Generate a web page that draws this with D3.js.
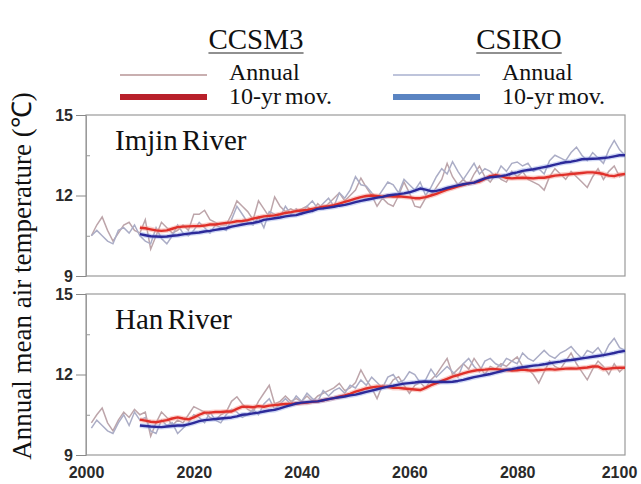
<!DOCTYPE html>
<html><head><meta charset="utf-8">
<script src="https://cdn.jsdelivr.net/npm/d3@7/dist/d3.min.js"></script>
<style>body{margin:0;background:#fff}</style>
</head><body><svg id="c" width="641" height="484"></svg>
<script>
// ---------- data ----------
const firstAnnualYear = 2001;
const firstMovYear = 2010;
const xTicks = [2000, 2020, 2040, 2060, 2080, 2100];
const yTicks = [9, 12, 15];
const yMinorTicks = [10.5, 13.5];
const modelNames = ["CCSM3", "CSIRO"];
const riverNames = ["Imjin River", "Han River"];

const imjinCCSM3Annual = [10.5,10.9,11.2,10.7,10.3,10.6,10.9,11.0,10.7,10.6,
 11.1,10.0,10.5,11.0,10.8,10.6,10.7,10.9,10.7,11.3,
 11.3,11.45,11.1,11.0,10.9,10.9,11.3,11.8,11.6,11.4,
 11.1,11.8,11.5,11.2,11.95,11.6,11.4,11.5,11.4,11.5,
 11.6,11.4,11.7,11.5,11.7,11.9,12.1,11.8,12.0,12.2,
 12.65,12.3,12.0,11.6,11.9,11.7,11.6,12.0,12.5,12.1,
 11.6,11.55,11.9,12.0,12.3,12.6,13.2,12.7,12.4,12.6,
 12.4,12.8,13.1,12.7,12.5,12.8,12.6,12.5,12.9,12.7,
 12.9,12.6,12.5,12.4,12.2,12.7,13.0,12.8,12.6,12.9,
 12.7,12.5,12.3,12.7,13.0,12.6,12.9,13.1,12.7,12.8];
const imjinCSIROAnnual = [10.5,10.7,10.5,10.3,10.2,10.7,10.8,10.6,10.9,10.5,
 10.3,10.2,10.8,10.4,10.2,10.5,10.9,10.6,10.5,10.7,
 11.0,10.8,10.6,10.9,10.8,10.7,11.1,11.6,11.3,11.0,
 10.9,11.2,10.8,11.4,11.3,11.2,11.6,11.3,11.5,11.3,
 11.6,11.8,11.5,11.7,11.9,11.6,12.1,11.9,12.2,12.7,
 12.4,12.35,12.1,11.9,12.2,12.5,12.4,12.1,12.6,12.4,
 12.2,12.5,12.0,12.3,12.7,13.0,12.8,13.26,12.9,12.6,
 12.9,13.2,12.8,13.0,12.9,12.7,13.1,12.9,13.2,13.25,
 13.1,13.2,12.9,13.0,12.8,13.3,13.5,13.4,13.3,13.6,
 13.8,13.5,13.3,13.6,13.4,13.2,13.7,14.05,13.7,13.5];
const imjinCCSM3Mov = [10.80,10.78,10.74,10.70,10.68,10.70,10.76,10.82,10.84,10.85,
 10.86,10.86,10.88,10.92,10.92,10.95,10.98,11.00,11.04,11.05,
 11.08,11.14,11.18,11.22,11.24,11.26,11.30,11.35,11.38,11.42,
 11.44,11.46,11.50,11.54,11.58,11.60,11.64,11.70,11.76,11.82,
 11.88,11.94,11.98,12.00,11.98,11.96,11.98,11.96,11.97,11.95,
 11.93,11.90,11.90,11.94,12.00,12.06,12.14,12.22,12.28,12.34,
 12.40,12.45,12.48,12.52,12.62,12.72,12.76,12.72,12.66,12.64,
 12.65,12.66,12.65,12.64,12.66,12.66,12.70,12.74,12.76,12.78,
 12.80,12.82,12.84,12.86,12.86,12.84,12.80,12.74,12.72,12.78,12.80];
const imjinCSIROMov = [10.56,10.52,10.48,10.47,10.46,10.47,10.50,10.52,10.55,10.58,
 10.60,10.62,10.66,10.68,10.72,10.75,10.78,10.84,10.88,10.92,
 10.95,10.98,11.02,11.09,11.12,11.15,11.18,11.22,11.25,11.27,
 11.33,11.38,11.43,11.50,11.52,11.55,11.58,11.62,11.65,11.70,
 11.75,11.80,11.84,11.88,11.92,11.95,12.00,12.03,12.05,12.08,
 12.12,12.18,12.26,12.22,12.16,12.17,12.22,12.28,12.33,12.38,
 12.42,12.45,12.48,12.56,12.64,12.68,12.70,12.72,12.76,12.82,
 12.86,12.92,12.95,12.98,13.02,13.06,13.10,13.15,13.20,13.24,
 13.26,13.30,13.35,13.36,13.37,13.38,13.40,13.42,13.46,13.50,13.50];

const hanCCSM3Annual = [10.2,10.5,10.75,10.2,9.9,10.3,10.6,10.4,10.7,10.5,
 10.6,9.7,10.2,10.6,10.4,10.1,10.3,10.2,10.5,10.8,
 10.7,10.6,10.4,10.3,10.5,10.6,11.0,11.17,10.9,10.7,
 10.6,11.0,11.3,11.6,10.9,11.0,11.2,11.0,11.1,11.0,
 11.2,11.0,11.2,11.3,11.4,11.5,11.67,11.4,11.5,11.7,
 12.17,11.8,11.5,11.1,11.6,11.5,11.8,11.92,11.6,11.3,
 11.6,11.7,11.5,11.8,12.0,12.3,12.6,12.0,12.2,12.4,
 12.2,12.6,12.3,12.0,12.3,12.2,12.4,12.3,12.5,12.66,
 12.3,12.2,12.0,11.68,12.1,12.5,12.3,12.2,12.5,12.8,
 12.4,12.1,11.8,12.2,12.5,12.3,12.0,12.4,12.1,12.3];
const hanCSIROAnnual = [10.0,10.3,10.1,9.9,9.8,10.2,10.5,10.1,10.6,10.3,
 10.4,9.9,9.8,10.3,10.1,10.2,9.8,10.0,10.2,10.5,
 10.4,10.2,10.6,10.3,10.2,10.5,10.7,10.6,10.4,10.5,
 10.7,10.5,10.9,11.1,10.7,10.9,11.1,10.9,11.2,11.0,
 11.3,11.1,11.0,11.4,11.2,11.4,11.5,11.3,11.6,11.5,
 11.8,11.6,11.9,11.7,11.5,11.9,12.0,11.7,11.8,12.1,
 12.0,11.7,11.8,12.2,11.9,12.1,12.3,12.1,11.9,12.4,
 12.6,12.3,12.1,12.5,12.6,12.4,12.3,12.6,12.5,12.4,
 12.8,12.6,12.5,12.7,12.9,12.7,12.6,12.8,12.9,13.04,
 12.8,12.6,12.9,12.8,13.0,12.7,13.1,13.35,13.0,12.9];
const hanCCSM3Mov = [10.32,10.28,10.24,10.22,10.26,10.30,10.36,10.40,10.36,10.33,
 10.40,10.50,10.58,10.58,10.60,10.60,10.62,10.62,10.72,10.80,
 10.80,10.78,10.82,10.80,10.84,10.86,10.88,10.90,10.90,10.92,
 10.94,10.95,10.98,11.00,11.04,11.08,11.12,11.17,11.22,11.28,
 11.36,11.42,11.48,11.52,11.55,11.55,11.54,11.50,11.50,11.48,
 11.46,11.44,11.42,11.50,11.60,11.68,11.76,11.84,11.92,11.98,
 12.04,12.10,12.14,12.17,12.18,12.20,12.20,12.18,12.17,12.15,
 12.16,12.18,12.16,12.15,12.17,12.18,12.20,12.18,12.20,12.22,
 12.23,12.22,12.24,12.26,12.30,12.30,12.20,12.22,12.24,12.25,12.25];
const hanCSIROMov = [10.10,10.08,10.06,10.05,10.04,10.06,10.08,10.10,10.10,10.14,
 10.20,10.26,10.30,10.32,10.34,10.36,10.38,10.40,10.44,10.50,
 10.52,10.55,10.58,10.62,10.66,10.68,10.74,10.80,10.86,10.92,
 10.95,10.97,10.99,11.00,11.04,11.08,11.12,11.15,11.18,11.22,
 11.25,11.30,11.35,11.40,11.45,11.50,11.55,11.58,11.62,11.66,
 11.68,11.70,11.73,11.74,11.73,11.72,11.73,11.72,11.73,11.76,
 11.80,11.85,11.90,11.94,11.98,12.02,12.07,12.12,12.17,12.20,
 12.24,12.27,12.30,12.33,12.35,12.38,12.42,12.45,12.48,12.52,
 12.54,12.57,12.60,12.63,12.66,12.69,12.72,12.76,12.80,12.85,12.88];

// ---------- drawing ----------
const SERIF = "Liberation Serif";
const SANS = "Liberation Sans";
const svg = d3.select("#c");
const left = 86, right = 625;
const panelBoxes = [{top:115, bottom:276}, {top:294, bottom:455}];
const x = d3.scaleLinear().domain([2000, 2100]).range([left, right]);

const col = {
  ccsmAnnual:"#bda5aa", csiroAnnual:"#abadc6",
  ccsmMov:"#e0302a", csiroMov:"#2c2a9a",
  ccsmMovHalo:"rgba(245,150,140,0.45)", csiroMovHalo:"rgba(140,160,230,0.4)",
  frame:"#9a9a9a"
};

const panels = [
  {name:riverNames[0], ccsmA:imjinCCSM3Annual, csiroA:imjinCSIROAnnual, ccsmM:imjinCCSM3Mov, csiroM:imjinCSIROMov},
  {name:riverNames[1], ccsmA:hanCCSM3Annual, csiroA:hanCSIROAnnual, ccsmM:hanCCSM3Mov, csiroM:hanCSIROMov}
];

panels.forEach((p, i) => {
  const box = panelBoxes[i];
  const y = d3.scaleLinear().domain([9, 15]).range([box.bottom, box.top]);
  const g = svg.append("g");
  g.append("rect").attr("x", left).attr("y", box.top)
    .attr("width", right-left).attr("height", box.bottom-box.top)
    .attr("fill", "#fff").attr("stroke", col.frame).attr("stroke-width", 1.2);

  const ax = g.append("g").attr("transform", `translate(${left},0)`)
    .call(d3.axisLeft(y).tickValues(yTicks).tickSize(10).tickPadding(3).tickFormat(d3.format("d")));
  ax.attr("font-family", SANS).attr("font-size", 16);
  ax.select(".domain").attr("stroke", col.frame);
  ax.selectAll(".tick line").attr("stroke", "#888");
  ax.selectAll("text").attr("font-weight", "bold").attr("fill", "#2a2a2a");

  g.append("g").attr("transform", `translate(${left},0)`)
    .call(d3.axisRight(y).tickValues(yMinorTicks).tickSize(4).tickFormat(""))
    .call(s => { s.select(".domain").remove(); s.selectAll("line").attr("stroke", "#999"); });

  const lineA = d3.line().x((d, k) => x(firstAnnualYear + k)).y(d => y(d));
  const lineM = d3.line().x((d, k) => x(firstMovYear + k)).y(d => y(d));

  g.append("path").datum(p.ccsmA).attr("d", lineA).attr("fill", "none")
    .attr("stroke", col.ccsmAnnual).attr("stroke-width", 1.5);
  g.append("path").datum(p.csiroA).attr("d", lineA).attr("fill", "none")
    .attr("stroke", col.csiroAnnual).attr("stroke-width", 1.5);

  g.append("path").datum(p.ccsmM).attr("d", lineM).attr("fill", "none")
    .attr("stroke", col.ccsmMovHalo).attr("stroke-width", 5);
  g.append("path").datum(p.csiroM).attr("d", lineM).attr("fill", "none")
    .attr("stroke", col.csiroMovHalo).attr("stroke-width", 5);
  g.append("path").datum(p.ccsmM).attr("d", lineM).attr("fill", "none")
    .attr("stroke", col.ccsmMov).attr("stroke-width", 2.4).attr("stroke-linejoin", "round");
  g.append("path").datum(p.csiroM).attr("d", lineM).attr("fill", "none")
    .attr("stroke", col.csiroMov).attr("stroke-width", 2.4).attr("stroke-linejoin", "round");

  g.append("text").attr("font-family", SERIF).attr("x", 115).attr("y", box.top + 35)
    .attr("font-size", 29).attr("word-spacing", -3).attr("fill", "#111").text(p.name);
});

// x axis
const xa = svg.append("g").attr("transform", `translate(0,${panelBoxes[1].bottom})`)
  .call(d3.axisBottom(x).tickValues(xTicks).tickSize(0).tickPadding(12).tickFormat(d3.format("d")));
xa.attr("font-family", SANS).attr("font-size", 16);
xa.select(".domain").remove();
xa.selectAll("text").attr("font-weight", "bold").attr("fill", "#2a2a2a")
  .attr("dx", d => d === 2100 ? -6 : 0);

// y title
svg.append("text").attr("font-family", SERIF)
  .attr("transform", "translate(31,276) rotate(-90)")
  .attr("text-anchor", "middle")
  .attr("font-size", 27).attr("fill", "#111")
  .text("Annual mean air temperature (℃)");

// legend
const legendCols = [
  {name:modelNames[0], cx:256, lx:120, tx:229, thin:"#b79596", thick:"#b8202a"},
  {name:modelNames[1], cx:519, lx:393, tx:502, thin:"#a9b0cf", thick:"#5a84c2"}
];
legendCols.forEach(c => {
  const t = svg.append("text").attr("font-family", SERIF).attr("x", c.cx).attr("y", 49)
    .attr("text-anchor", "middle").attr("font-size", 29).attr("fill", "#111").text(c.name);
  const w = t.node().getComputedTextLength();
  svg.append("line").attr("x1", c.cx - w/2).attr("x2", c.cx + w/2).attr("y1", 53).attr("y2", 53)
    .attr("stroke", "#222").attr("stroke-width", 1.2);
  svg.append("line").attr("x1", c.lx).attr("x2", c.lx + 87).attr("y1", 75).attr("y2", 75)
    .attr("stroke", c.thin).attr("stroke-width", 1.5);
  svg.append("line").attr("x1", c.lx).attr("x2", c.lx + 87).attr("y1", 97).attr("y2", 97)
    .attr("stroke", c.thick).attr("stroke-width", 6);
  svg.append("text").attr("font-family", SERIF).attr("x", c.tx).attr("y", 80)
    .attr("font-size", 24).attr("fill", "#111").text("Annual");
  svg.append("text").attr("font-family", SERIF).attr("x", c.tx).attr("y", 104)
    .attr("font-size", 24).attr("fill", "#111").attr("word-spacing", -2).text("10-yr mov.");
});
</script></body></html>
